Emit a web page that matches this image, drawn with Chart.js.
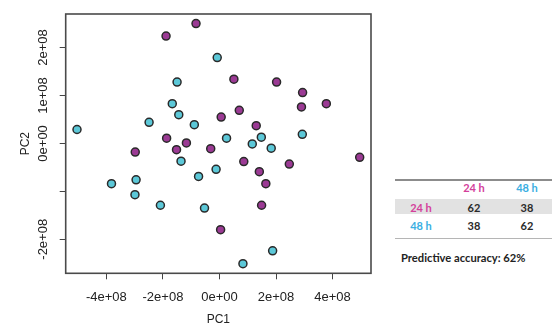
<!DOCTYPE html>
<html><head><meta charset="utf-8">
<script src="https://cdn.jsdelivr.net/npm/chart.js@4/dist/chart.umd.min.js"></script>
<style>
html,body{margin:0;padding:0;background:#fff;width:552px;height:333px;overflow:hidden;}
body{position:relative;font-family:Lato,"Open Sans",sans-serif;}
#c{position:absolute;left:0;top:0;}
.t{position:absolute;transform:translate(-50%,-50%);font-weight:700;font-size:11px;white-space:nowrap;line-height:1;}
.band{position:absolute;left:395px;width:157px;}
#acc{position:absolute;left:401px;top:258px;transform:translateY(-50%);font-weight:700;font-size:11.2px;color:#222;white-space:nowrap;line-height:1;}
</style></head><body>
<canvas id="c" width="380" height="333"></canvas>
<div id="tbl"></div>
<div id="acc"></div>
<script>
// ---- data ----
const pc1_24h = [-0.83e8,-1.89e8,0.51e8,2.02e8,2.94e8,3.78e8,2.90e8,0.70e8,0.06e8,1.30e8,-1.87e8,-1.17e8,-1.52e8,-0.31e8,-2.98e8,0.86e8,2.47e8,4.96e8,1.41e8,1.64e8,1.49e8,0.04e8];
const pc2_24h = [2.50e8,2.24e8,1.34e8,1.28e8,1.06e8,0.83e8,0.76e8,0.69e8,0.55e8,0.37e8,0.11e8,0.01e8,-0.13e8,-0.11e8,-0.18e8,-0.38e8,-0.43e8,-0.29e8,-0.59e8,-0.84e8,-1.29e8,-1.80e8];
const pc1_48h = [-0.08e8,-1.50e8,-1.67e8,-1.44e8,-2.49e8,-5.04e8,-0.89e8,0.25e8,1.48e8,2.93e8,1.16e8,1.83e8,-1.36e8,-0.12e8,-0.74e8,-3.82e8,-2.95e8,-2.99e8,-2.09e8,-0.53e8,1.88e8,0.83e8];
const pc2_48h = [1.79e8,1.28e8,0.83e8,0.60e8,0.44e8,0.29e8,0.39e8,0.11e8,0.13e8,0.19e8,-0.01e8,-0.10e8,-0.37e8,-0.54e8,-0.69e8,-0.84e8,-0.76e8,-1.07e8,-1.29e8,-1.35e8,-2.24e8,-2.51e8];
const seriesNames = ['24 h','48 h'];
const xTickValues = [-4e8,-2e8,0,2e8,4e8];
const xTickLabels = ['-4e+08','-2e+08','0e+00','2e+08','4e+08'];
const yTickValues = [-2e8,-1e8,0,1e8,2e8];
const yTickLabels = ['-2e+08','','0e+00','1e+08','2e+08'];
const tableClasses = ['24 h','48 h'];
const confusionRow24 = [62,38];
const confusionRow48 = [38,62];
const accuracyText = 'Predictive accuracy: 62%';

// ---- styles ----
const col24 = '#9b3a94', col48 = '#5cc8d8';
const txt24 = '#d4409b', txt48 = '#3aaee2';
const tickFont = {family:'"Liberation Sans", Arial, sans-serif', size:13};
const titleFont = {family:'"Liberation Sans", Arial, sans-serif', size:12};

function ds(xs, ys, color, label){
  return {label, data: xs.map((x,i)=>({x, y: ys[i]})), backgroundColor: color,
    borderColor:'#2a2a2a', borderWidth:1.5, pointRadius:4, pointHoverRadius:4};
}

const boxPlugin = {
  id:'box',
  afterDraw(chart){
    const {ctx, chartArea:a} = chart;
    ctx.save();
    ctx.strokeStyle = '#4a4a4a'; ctx.lineWidth = 1.6;
    ctx.strokeRect(a.left, a.top, a.right-a.left, a.bottom-a.top);
    // rotated y tick labels (R style)
    const ys = chart.scales.y;
    ctx.fillStyle = '#222';
    ctx.font = '13px "Liberation Sans", Arial, sans-serif';
    ctx.textAlign = 'center'; ctx.textBaseline = 'middle';
    yTickValues.forEach((v,i)=>{
      const lab = yTickLabels[i];
      if(!lab) return;
      const py = ys.getPixelForValue(v);
      ctx.save(); ctx.translate(43, py); ctx.rotate(-Math.PI/2);
      ctx.fillText(lab, 0, 0); ctx.restore();
    });
    ctx.restore();
  }
};

new Chart(document.getElementById('c').getContext('2d'), {
  type:'scatter',
  data:{datasets:[ds(pc1_24h,pc2_24h,col24,seriesNames[0]), ds(pc1_48h,pc2_48h,col48,seriesNames[1])]},
  options:{
    responsive:false, animation:false, devicePixelRatio:1,
    layout:{padding:{top:14,right:9,bottom:2,left:0}},
    plugins:{legend:{display:false}, tooltip:{enabled:false}},
    scales:{
      x:{type:'linear', min:-5.44e8, max:5.36e8,
        afterBuildTicks(s){ s.ticks = xTickValues.map(v=>({value:v})); },
        afterFit(s){ s.height = 57.7; },
        ticks:{padding:10, color:'#222', font:tickFont, maxRotation:0, autoSkip:false,
          callback:(v)=>{ const i = xTickValues.indexOf(v); return i>=0 ? xTickLabels[i] : ''; }},
        grid:{drawOnChartArea:false, drawTicks:true, tickLength:6, color:'#444', lineWidth:1},
        border:{display:false},
        title:{display:true, text:'PC1', color:'#222', font:titleFont, padding:{top:4,bottom:4}}
      },
      y:{type:'linear', min:-2.71e8, max:2.70e8,
        afterBuildTicks(s){ s.ticks = yTickValues.map(v=>({value:v})); },
        afterFit(s){ s.width = 65.7; },
        ticks:{color:'rgba(0,0,0,0)', font:tickFont, autoSkip:false,
          callback:(v)=>{ const i = yTickValues.indexOf(v); return i>=0 ? yTickLabels[i] : ''; }},
        grid:{drawOnChartArea:false, drawTicks:true, tickLength:6, color:'#444', lineWidth:1},
        border:{display:false},
        title:{display:true, text:'PC2', color:'#222', font:titleFont, padding:{top:18,bottom:4}}
      }
    }
  },
  plugins:[boxPlugin]
});

// ---- table ----
const tbl = document.getElementById('tbl');
function band(top, h, bg){ const d=document.createElement('div'); d.className='band'; d.style.top=top+'px'; d.style.height=h+'px'; d.style.background=bg; tbl.appendChild(d); }
function cell(x, y, text, color){ const d=document.createElement('div'); d.className='t'; d.style.left=x+'px'; d.style.top=y+'px'; d.style.color=color; d.textContent=text; tbl.appendChild(d); }
band(179, 2, '#8c8c8c');
band(199, 14.5, '#e2e2e2');
band(237.5, 1.2, '#b5b5b5');
const colX = [421, 474, 527];
const rowY = [187, 206.5, 225];
const classColors = [txt24, txt48];
cell(colX[1], rowY[0], tableClasses[0], classColors[0]);
cell(colX[2], rowY[0], tableClasses[1], classColors[1]);
[confusionRow24, confusionRow48].forEach((row, r)=>{
  cell(colX[0], rowY[r+1], tableClasses[r], classColors[r]);
  row.forEach((v,c)=> cell(colX[c+1], rowY[r+1], String(v), '#2a2a2a'));
});
document.getElementById('acc').textContent = accuracyText;
</script>
</body></html>
